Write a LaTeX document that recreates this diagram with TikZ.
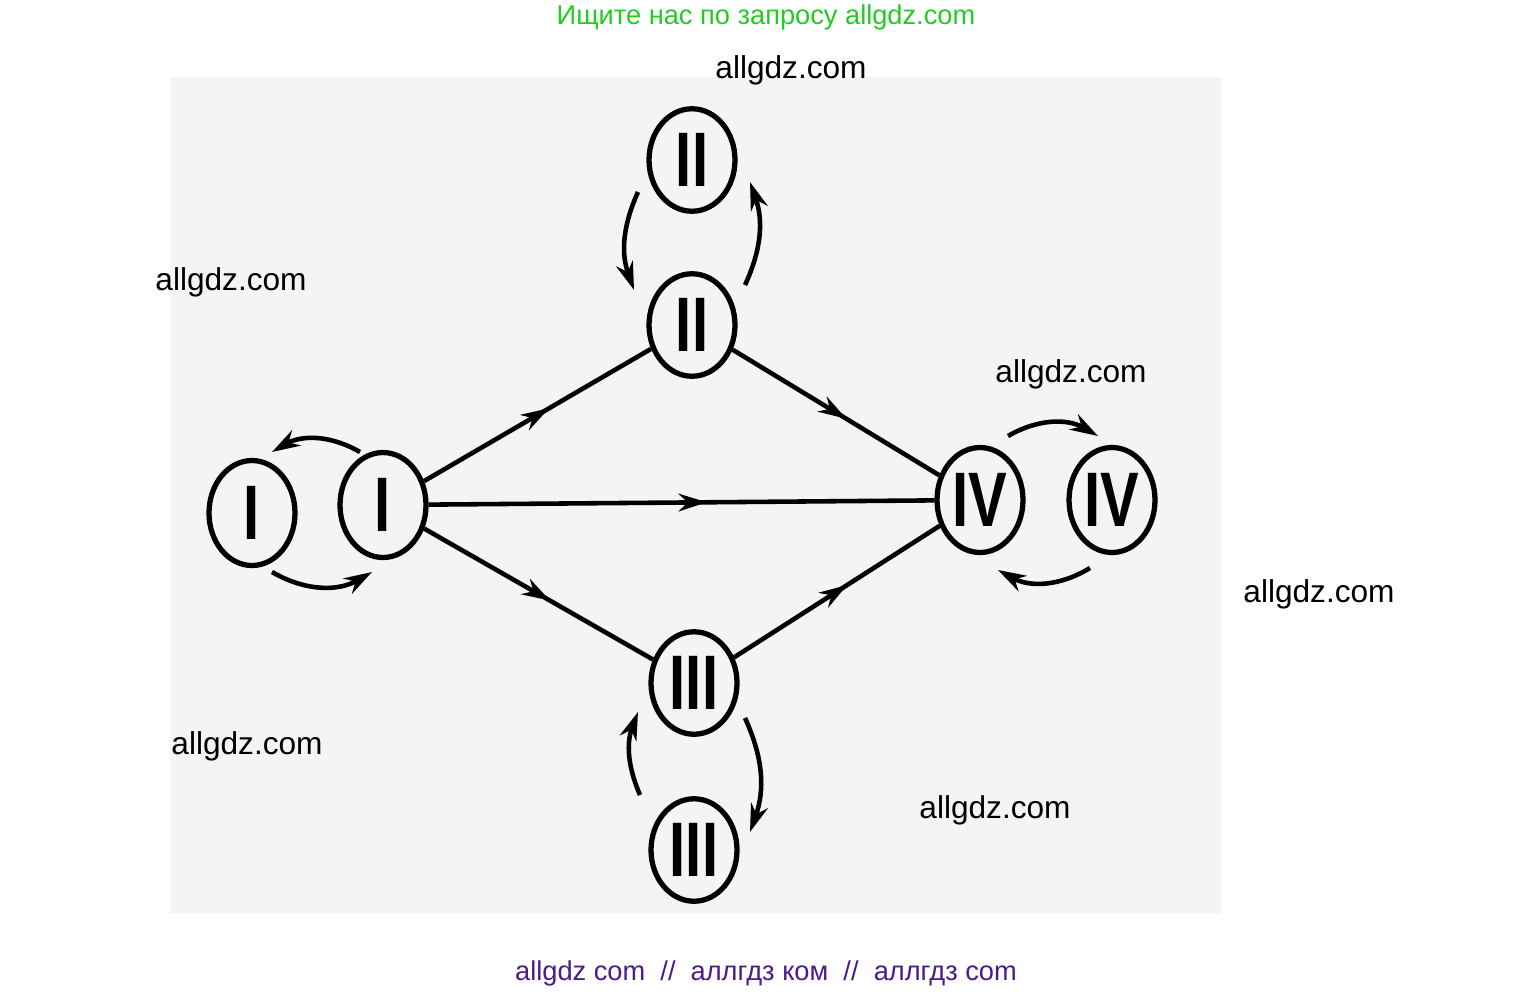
\documentclass[tikz,border=0pt]{standalone}
\usepackage{fontspec}
\setmainfont{Liberation Sans}
\usetikzlibrary{decorations.markings,arrows.meta,shapes.geometric}
\definecolor{bg}{HTML}{F4F4F4}
\definecolor{wmg}{HTML}{22CC22}
\definecolor{wmp}{HTML}{4B1A8C}
\begin{document}
\begin{tikzpicture}[x=0.02cm,y=-0.02cm,
  st/.style={draw,line width=3pt,ellipse,minimum width=1.72cm,minimum height=2.1cm,inner sep=0pt,font=\fontsize{44}{46}\selectfont\bfseries},
  sp/.style={st,minimum width=1.72cm,minimum height=2.05cm},
  ed/.style={line width=2.6pt,postaction={decorate},decoration={markings,mark=at position 0.55 with {\arrow{Stealth[length=16pt,width=10pt]}}}},
  cv/.style={line width=2.6pt,-{Stealth[length=16pt,width=10pt]}},
  wm/.style={font=\fontsize{18}{20}\selectfont}]
\useasboundingbox (0,0) rectangle (1534,994);
\fill[bg] (170,77) rectangle (1221,913);
\node[st] (i1) at (252,513) {\scalebox{0.75}[1]{I}};
\node[st] (i2) at (383,505) {\scalebox{0.75}[1]{I}};
\node[sp] (ii1) at (692,160) {\scalebox{0.75}[1]{II}};
\node[sp] (ii2) at (692,325) {\scalebox{0.75}[1]{II}};
\node[st] (iv1) at (980,500) {\scalebox{0.75}[1]{IV}};
\node[st] (iv2) at (1112,500) {\scalebox{0.75}[1]{IV}};
\node[sp] (iii1) at (694,683) {\scalebox{0.75}[1]{III}};
\node[sp] (iii2) at (694,850) {\scalebox{0.75}[1]{III}};
\draw[ed] (i2) -- (ii2);
\draw[ed] (i2) -- (iv1);
\draw[ed] (i2) -- (iii1);
\draw[ed] (ii2) -- (iv1);
\draw[ed] (iii1) -- (iv1);
\coordinate (a1) at (360,452); \coordinate (a2) at (272,452);
\draw[cv] (a1) to[bend right=30] (a2);
\coordinate (b1) at (272,572); \coordinate (b2) at (372,572);
\draw[cv] (b1) to[bend right=30] (b2);
\coordinate (c1) at (638,192); \coordinate (c2) at (634,290);
\draw[cv] (c1) to[bend right=22] (c2);
\coordinate (d1) at (745,285); \coordinate (d2) at (750,182);
\draw[cv] (d1) to[bend right=22] (d2);
\coordinate (e1) at (1008,436); \coordinate (e2) at (1098,436);
\draw[cv] (e1) to[bend left=30] (e2);
\coordinate (f1) at (1090,568); \coordinate (f2) at (998,570);
\draw[cv] (f1) to[bend left=30] (f2);
\coordinate (g1) at (640,795); \coordinate (g2) at (638,712);
\draw[cv] (g1) to[bend left=22] (g2);
\coordinate (h1) at (745,718); \coordinate (h2) at (750,832);
\draw[cv] (h1) to[bend left=22] (h2);
\node[text=wmg,font=\fontsize{15.5}{18}\selectfont] (t0) at (766,17) {Ищите нас по запросу allgdz.com};
\node[wm] (t1) at (791,70) {allgdz.com};
\node[wm] (t2) at (231,282) {allgdz.com};
\node[wm] (t3) at (1071,374) {allgdz.com};
\node[wm] (t4) at (1319,594) {allgdz.com};
\node[wm] (t5) at (247,746) {allgdz.com};
\node[wm] (t6) at (995,810) {allgdz.com};
\node[text=wmp,font=\fontsize{15.5}{18}\selectfont] (t7) at (766,973) {allgdz com \ // \ аллгдз ком \ // \ аллгдз com};
\end{tikzpicture}
\end{document}
